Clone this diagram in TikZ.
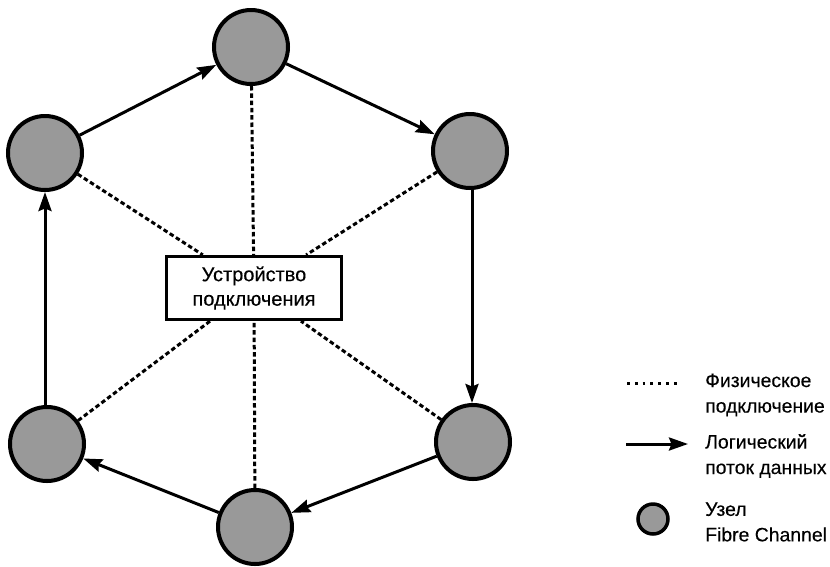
\documentclass[tikz,border=0pt]{standalone}
\usepackage{fontspec}
\setmainfont{Liberation Sans}[FakeBold=0.25]
\usetikzlibrary{arrows.meta}
\definecolor{nodegray}{rgb}{0.6,0.6,0.6}
\tikzset{
  fcnode/.style={circle, draw=black, line width=4pt, fill=nodegray, minimum size=74pt, inner sep=0pt},
  switchbox/.style={rectangle, draw=black, line width=3.2pt, fill=white, minimum width=175pt, minimum height=63pt, align=center, font=\fontsize{20}{24.5}\selectfont},
  physlink/.style={line width=3pt, dash pattern=on 4.5pt off 2.8pt},
  flow/.style={line width=3pt, -{Stealth[length=19pt,width=13pt,inset=2.5pt]}},
  legendtext/.style={anchor=west, align=left, font=\fontsize{19.4}{25.5}\selectfont, inner sep=0pt}
}
\begin{document}
\begin{tikzpicture}[x=1pt,y=-1pt]
  \useasboundingbox (0,0) rectangle (830,566);

  % central switching device
  \node[switchbox] (sw) at (254,288) {Устройство\\подключения};

  % Fibre Channel nodes
  \node[fcnode] (top) at (251,47) {};
  \node[fcnode] (ul)  at (45,153) {};
  \node[fcnode] (ur)  at (470,151) {};
  \node[fcnode] (ll)  at (47,444) {};
  \node[fcnode] (lr)  at (473,442) {};
  \node[fcnode] (bot) at (255,527) {};

  % physical links to the switch
  \draw[physlink] (top) -- (sw);
  \draw[physlink] (ul) -- (sw);
  \draw[physlink] (ur) -- (sw);
  \draw[physlink] (ll) -- (sw);
  \draw[physlink] (lr) -- (sw);
  \draw[physlink] (bot) -- (sw);

  % logical data flow around the loop
  \draw[flow] (ul) -- (top);
  \draw[flow] (top) -- (ur);
  \draw[flow] (ur.south -| 472,0) -- (lr.north -| 472,0);
  \draw[flow] (lr) -- (bot);
  \draw[flow] (bot) -- (ll);
  \draw[flow] (ll.north -| 45,0) -- (ul.south -| 45,0);

  % legend
  \coordinate (d1) at (627,383);
  \coordinate (d2) at (677,383);
  \draw[line width=3pt, dash pattern=on 2.8pt off 5pt] (d1) -- (d2);
  \node[legendtext] (t1) at (705,395) {Физическое\\подключение};

  \coordinate (a1) at (626,444);
  \coordinate (a2) at (688,444);
  \draw[flow] (a1) -- (a2);
  \node[legendtext] (t2) at (705,456) {Логический\\поток данных};

  \node[fcnode, minimum size=30pt, line width=3.5pt] (lc) at (653,519) {};
  \node[legendtext] (t3) at (705,522) {Узел\\Fibre Channel};
\end{tikzpicture}
\end{document}
